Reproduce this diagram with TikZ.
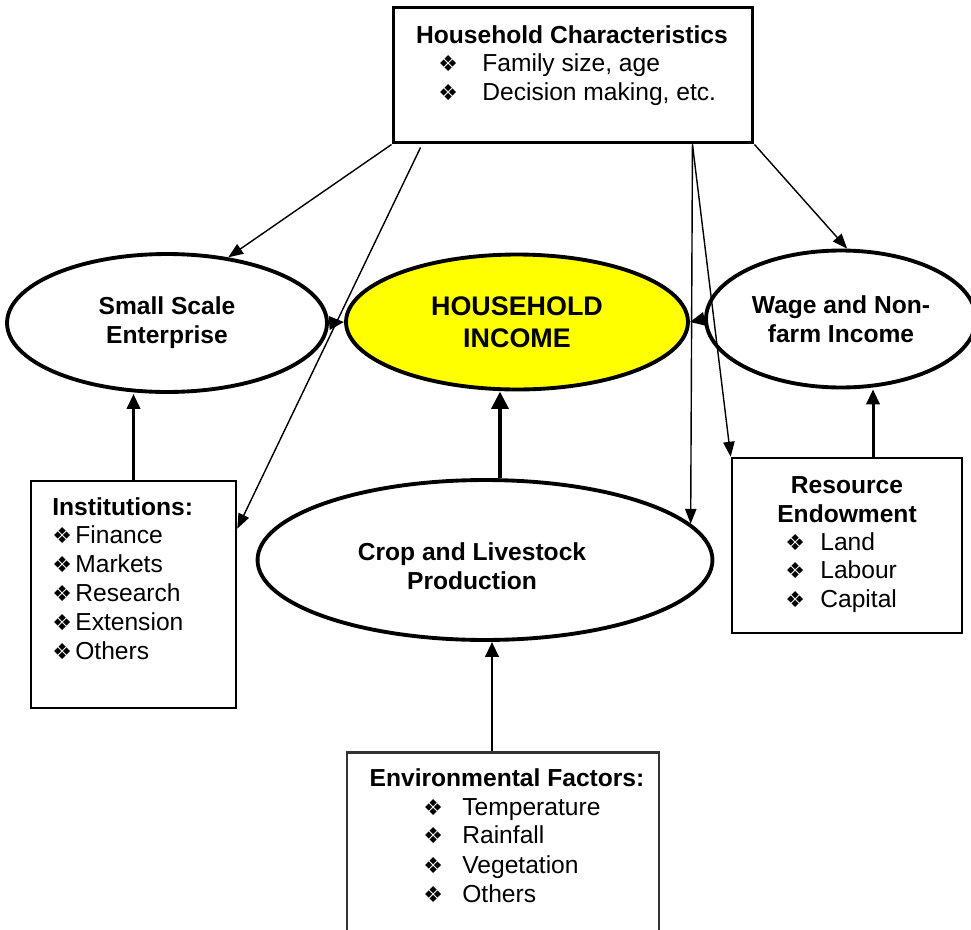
\documentclass[tikz,border=0pt]{standalone}
\usepackage{fontspec}
\setmainfont{Liberation Sans}
\newfontfamily\dingfont{DejaVu Sans}
\usepackage{tikz}
\usetikzlibrary{arrows.meta,shapes,calc}
\definecolor{hiyellow}{RGB}{255,255,0}
\newcommand\bul{{\dingfont\fontsize{12.5}{14}\selectfont\char"2756}}
\newcommand\bitem[2]{\makebox[#1][l]{\bul}#2}

\begin{document}
\begin{tikzpicture}[x = 0.02cm, y = -0.02cm,
  every node/.style = {inner sep = 0pt, font = \fontsize{14}{16.4}\selectfont},
  box/.style = {draw, line width = 1.5pt},
  oval/.style = {draw, ellipse, line width = 2.2pt, align = center, font = \fontsize{14}{16.4}\selectfont\bfseries},
  thin arrow/.style = {line width = 0.8pt, -{Triangle[length = 8.5pt, width = 6.5pt]}},
  thick arrow/.style = {line width = 1.7pt, -{Triangle[length = 8.5pt, width = 7.5pt]}}]
\useasboundingbox (0,0) rectangle (971,930);
% household characteristics
\node[box, line width = 1.7pt, minimum width = 7.2cm, minimum height = 2.72cm] (hc) at (573, 75) {};
\node[anchor = base] (hctitle) at (572, 43) {\textbf{Household Characteristics}};
\node[anchor = base west] (hcitem1) at (438, 71) {\bitem{0.88cm}{Family size, age}};
\node[anchor = base west] (hcitem2) at (438, 100) {\bitem{0.88cm}{Decision making, etc.}};
% the three income sources
\node[oval, minimum width = 6.4cm, minimum height = 2.76cm] (sse) at (167, 323) {Small Scale\\Enterprise};
\node[oval, fill = hiyellow, minimum width = 6.84cm, minimum height = 2.7cm, font = \fontsize{15.3}{18}\selectfont\bfseries] (hi) at (517, 322) {HOUSEHOLD\\INCOME};
\node[oval, minimum width = 5.4cm, minimum height = 2.74cm] (wage) at (841, 319) {Wage and Non-\\farm Income};
\node[oval, minimum width = 9.1cm, minimum height = 3.2cm] (crop) at (485, 560) {};
\node[align = center, font = \fontsize{14}{16.4}\selectfont\bfseries] (croptext) at (472, 566) {Crop and Livestock\\Production};
% institutions
\node[box, minimum width = 4.1cm, minimum height = 4.54cm] (inst) at (133.5, 594.5) {};
\node[anchor = base west] (insttitle) at (52, 515) {\textbf{Institutions:}};
\node[anchor = base west] (institem1) at (52, 543) {\bitem{0.46cm}{Finance}};
\node[anchor = base west] (institem2) at (52, 572) {\bitem{0.46cm}{Markets}};
\node[anchor = base west] (institem3) at (52, 601) {\bitem{0.46cm}{Research}};
\node[anchor = base west] (institem4) at (52, 630) {\bitem{0.46cm}{Extension}};
\node[anchor = base west] (institem5) at (52, 659) {\bitem{0.46cm}{Others}};
% resource endowment
\node[box, minimum width = 4.6cm, minimum height = 3.5cm] (res) at (847, 545.5) {};
\node[anchor = base] (restitle1) at (847, 493) {\textbf{Resource}};
\node[anchor = base] (restitle2) at (847, 522) {\textbf{Endowment}};
\node[anchor = base west] (resitem1) at (785, 550) {\bitem{0.7cm}{Land}};
\node[anchor = base west] (resitem2) at (785, 578) {\bitem{0.7cm}{Labour}};
\node[anchor = base west] (resitem3) at (785, 607) {\bitem{0.7cm}{Capital}};
% environmental factors
\node[box, draw = black!80, minimum width = 6.24cm, minimum height = 4cm, anchor = north] (env) at (503, 751) {};
\node[anchor = base] (envtitle) at (507, 786) {\textbf{Environmental Factors:}};
\node[anchor = base west] (envitem1) at (423, 815) {\bitem{0.78cm}{Temperature}};
\node[anchor = base west] (envitem2) at (423, 843) {\bitem{0.78cm}{Rainfall}};
\node[anchor = base west] (envitem3) at (423, 873) {\bitem{0.78cm}{Vegetation}};
\node[anchor = base west] (envitem4) at (423, 902) {\bitem{0.78cm}{Others}};
% links from household characteristics
\coordinate (hcleft) at ($(hc.south west)+(29,3)$);
\coordinate (hcright) at ($(hc.south east)+(-62,0)$);
\draw[thin arrow] (hc.south west) -- (sse.47);
\draw[thin arrow] (hcleft) -- ($(inst.north east)+(0,49)$);
\draw[thin arrow] (hcright) -- (crop.10);
\draw[thin arrow] (hcright) -- (res.north west);
\draw[thin arrow] (hc.south east) -- (wage.85);
% links into the income nodes
\draw[thick arrow] (sse.east) -- (hi.west);
\draw[thick arrow] (wage.west) -- (hi.east);
\draw[thick arrow] (inst.north) -- (inst.north |- sse.south);
\draw[thick arrow, line width = 2.8pt, -{Triangle[length = 10pt, width = 9.5pt]}] ($(crop.north)+(15,0)$) -- ($(hi.south)+(-17,0)$);
\draw[thick arrow] ($(res.north)+(26,0)$) -- ($(wage.south)+(32,0)$);
\draw[thick arrow] ($(env.north)+(-11,0)$) -- ($(crop.south)+(7,0)$);
\end{tikzpicture}
\end{document}
